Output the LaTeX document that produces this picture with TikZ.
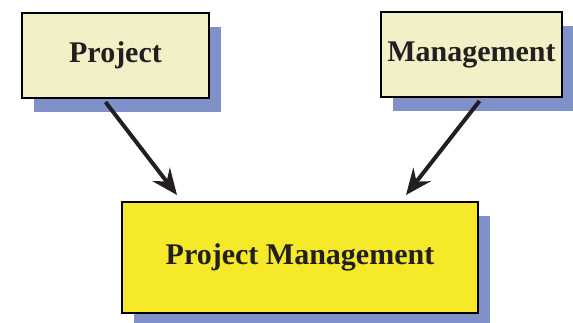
\documentclass[tikz,border=0pt]{standalone}
\usepackage{fontspec}
\setmainfont{Liberation Serif}
\usepackage{xcolor}
\usetikzlibrary{arrows.meta, positioning, calc, shadows}

\definecolor{paleyellow}{HTML}{F2F0C6}
\definecolor{brightyellow}{HTML}{F6E92A}
\definecolor{shadowblue}{HTML}{8090C8}
\definecolor{inkgray}{HTML}{231F20}

\begin{document}
\begin{tikzpicture}[
    x=1pt, y=-1pt,
    box/.style={draw=black, line width=2pt, rectangle, align=center, fill=paleyellow,
        text=inkgray, font=\fontsize{30}{36}\selectfont\bfseries, inner sep=0pt,
        general shadow={shadow xshift=12pt, shadow yshift=-14pt, fill=shadowblue}},
    arrow/.style={line width=4pt, draw=inkgray, -{Stealth[length=26pt, width=22pt, inset=9pt]}}
]
\useasboundingbox (0,0) rectangle (573,322);

% Nodes
\node (project) [box, minimum width=187pt, minimum height=85pt] at (115.5,55.5) {Project};
\node (management) [box, minimum width=181pt, minimum height=85pt] at (471.5,54.5) {Management};
\node (pm) [box, fill=brightyellow, minimum width=356pt, minimum height=111pt] at (300,257.5) {Project Management};

% Links
\draw[arrow] ([xshift=-10pt,yshift=-3pt]project.south) -- ([xshift=56pt,yshift=6pt]pm.north west);
\draw[arrow] ([xshift=8pt,yshift=-3pt]management.south) -- ([xshift=-73pt,yshift=6pt]pm.north east);

\end{tikzpicture}
\end{document}
